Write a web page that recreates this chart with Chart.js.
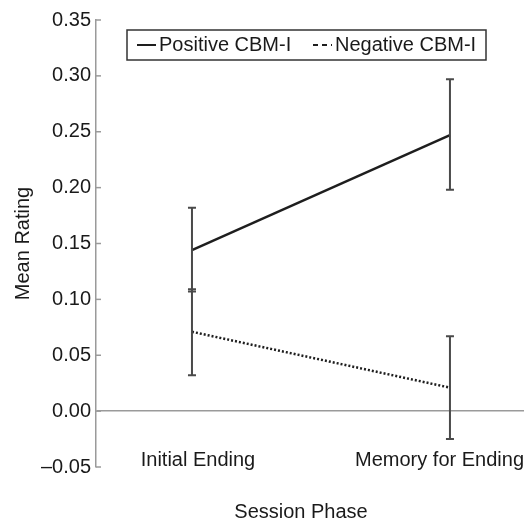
<!DOCTYPE html>
<html>
<head>
<meta charset="utf-8">
<script src="https://cdn.jsdelivr.net/npm/chart.js@4.4.1/dist/chart.umd.min.js"></script>
<style>
  body { margin: 0; background: #fff; }
  #wrap { width: 524px; height: 519px; }
</style>
</head>
<body>
<div id="wrap"><canvas id="grafico" width="524" height="519"></canvas></div>
<script>
// dados
const fases = ['Initial Ending', 'Memory for Ending'];
const series = ['Positive CBM-I', 'Negative CBM-I'];

const positivoMedia = [0.144, 0.247];
const positivoMin = [0.107, 0.198];
const positivoMax = [0.182, 0.297];

const negativoMedia = [0.071, 0.021];
const negativoMin = [0.032, -0.025];
const negativoMax = [0.109, 0.067];

const yMin = -0.05;
const yMax = 0.35;
const yPasso = 0.05;

const fonte = { family: '"Liberation Sans", Arial, sans-serif', size: 20 };
const corTexto = '#1a1a1a';
const corEixo = '#9a9a9a';

function pontos(valores) {
  return valores.map((v, i) => ({ x: i, y: v }));
}

// barras de erro, eixo X, ticks internos e legenda
const extras = {
  id: 'extras',
  afterDatasetsDraw(chart) {
    const ctx = chart.ctx;
    const xs = chart.scales.x;
    const ys = chart.scales.y;
    const area = chart.chartArea;

    // barras de erro
    const erros = [[positivoMin, positivoMax], [negativoMin, negativoMax]];
    ctx.save();
    ctx.strokeStyle = '#4a4a4a';
    ctx.lineWidth = 2;
    erros.forEach(([lo, hi]) => {
      fases.forEach((f, i) => {
        const x = xs.getPixelForValue(i);
        const y1 = ys.getPixelForValue(lo[i]);
        const y2 = ys.getPixelForValue(hi[i]);
        ctx.beginPath();
        ctx.moveTo(x, y1); ctx.lineTo(x, y2);
        ctx.moveTo(x - 4, y1); ctx.lineTo(x + 4, y1);
        ctx.moveTo(x - 4, y2); ctx.lineTo(x + 4, y2);
        ctx.stroke();
      });
    });
    ctx.restore();

    // ticks para dentro
    ctx.save();
    ctx.strokeStyle = corEixo;
    ctx.lineWidth = 1.5;
    ys.ticks.forEach(t => {
      const y = ys.getPixelForValue(t.value);
      ctx.beginPath();
      ctx.moveTo(area.left, y);
      ctx.lineTo(area.left + 5, y);
      ctx.stroke();
    });
    ctx.restore();

    // rótulos do eixo X
    ctx.save();
    ctx.font = fonte.size + 'px ' + fonte.family;
    ctx.fillStyle = corTexto;
    ctx.textAlign = 'center';
    ctx.textBaseline = 'middle';
    fases.forEach((f, i) => {
      const w = ctx.measureText(f).width;
      let x = xs.getPixelForValue(i) + 6;
      x = Math.min(x, chart.width - w / 2);
      ctx.fillText(f, x, area.bottom - 7);
    });
    ctx.fillText('Session Phase', (area.left + area.right) / 2 - 9, area.bottom + 45);
    ctx.restore();

    // legenda com caixa
    const lx = area.left + 31, ly = area.top + 10, lw = 359, lh = 30;
    ctx.save();
    ctx.fillStyle = '#fff';
    ctx.fillRect(lx, ly, lw, lh);
    ctx.strokeStyle = '#333';
    ctx.lineWidth = 1.5;
    ctx.strokeRect(lx, ly, lw, lh);
    ctx.font = fonte.size + 'px ' + fonte.family;
    ctx.fillStyle = corTexto;
    ctx.textBaseline = 'middle';
    const cy = ly + lh / 2;
    const posicoes = [lx + 10, lx + 186];
    const tracos = [[], [5, 4]];
    chart.data.datasets.forEach((ds, i) => {
      const x0 = posicoes[i];
      ctx.beginPath();
      ctx.strokeStyle = ds.borderColor;
      ctx.lineWidth = 2;
      ctx.setLineDash(tracos[i]);
      ctx.moveTo(x0, cy);
      ctx.lineTo(x0 + 19, cy);
      ctx.stroke();
      ctx.setLineDash([]);
      ctx.fillText(ds.label, x0 + 22, cy);
    });
    ctx.restore();
  }
};

const grafico = new Chart(document.getElementById('grafico'), {
  type: 'line',
  data: {
    datasets: [{
      label: series[0],
      data: pontos(positivoMedia),
      borderColor: '#1e1e1e',
      borderWidth: 2.5,
      pointRadius: 0,
      fill: false
    }, {
      label: series[1],
      data: pontos(negativoMedia),
      borderColor: '#1e1e1e',
      borderWidth: 2.5,
      borderDash: [2, 2],
      pointRadius: 0,
      fill: false
    }]
  },
  options: {
    responsive: false,
    animation: false,
    layout: { padding: { top: 20, bottom: 52, left: 0, right: 0 } },
    plugins: {
      legend: { display: false },
      tooltip: { enabled: false }
    },
    scales: {
      x: {
        type: 'linear',
        display: false,
        min: -0.372,
        max: 1.287
      },
      y: {
        min: yMin,
        max: yMax,
        afterFit: function(scale) { scale.width = 96; },
        ticks: {
          stepSize: yPasso,
          padding: 5,
          color: corTexto,
          font: fonte,
          callback: function(v) {
            const s = Math.abs(v).toFixed(2);
            return v < -1e-9 ? '\u2013' + s : s;
          }
        },
        grid: {
          drawTicks: false,
          lineWidth: 1.5,
          color: function(c) {
            return c.tick && Math.abs(c.tick.value) < 1e-9 ? corEixo : 'rgba(0,0,0,0)';
          }
        },
        border: { display: true, color: corEixo, width: 1.5 },
        title: {
          display: true,
          text: 'Mean Rating',
          color: corTexto,
          font: fonte,
          padding: { top: 11, bottom: 4 }
        }
      }
    }
  },
  plugins: [extras]
});
</script>
</body>
</html>
